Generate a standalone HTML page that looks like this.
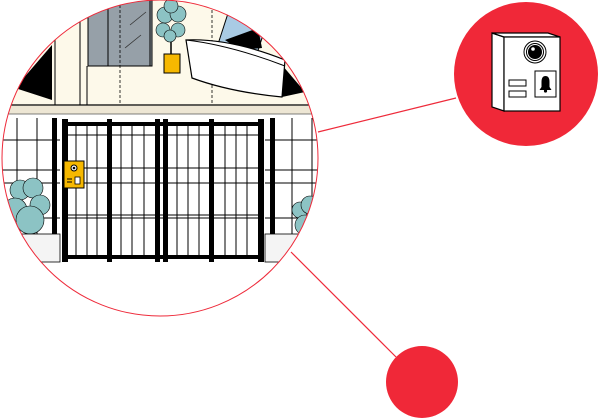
<!DOCTYPE html>
<html><head><style>html,body{margin:0;padding:0;background:#fff;width:600px;height:418px;overflow:hidden}</style></head>
<body>
<svg width="600" height="418" viewBox="0 0 600 418" xmlns="http://www.w3.org/2000/svg">
<defs><clipPath id="c"><circle cx="160" cy="158" r="158"/></clipPath></defs>
<line x1="318" y1="132" x2="456" y2="98" stroke="#ee2a3a" stroke-width="1.2"/>
<line x1="291" y1="252" x2="396" y2="357" stroke="#ee2a3a" stroke-width="1.2"/>
<g clip-path="url(#c)">
<rect x="0" y="0" width="320" height="320" fill="#fff"/>
<rect x="0" y="0" width="320" height="106" fill="#fdf9ea"/>
<rect x="0" y="106" width="320" height="8" fill="#ede6d4"/>
<line x1="0" y1="114" x2="320" y2="114" stroke="#555" stroke-width="0.8"/>
<rect x="88" y="0" width="64" height="66" fill="#96a0a8" stroke="#000" stroke-width="1"/>
<line x1="108" y1="0" x2="108" y2="66" stroke="#000"/><line x1="150" y1="0" x2="150" y2="66" stroke="#000"/>
<line x1="130" y1="25" x2="146" y2="12" stroke="#333" stroke-width="0.8"/><line x1="125" y1="48" x2="141" y2="35" stroke="#333" stroke-width="0.8"/>
<line x1="87" y1="66" x2="87" y2="105" stroke="#000"/><line x1="80" y1="15" x2="80" y2="105" stroke="#000"/>
<line x1="55" y1="15" x2="55" y2="105" stroke="#000"/>
<line x1="120" y1="0" x2="120" y2="103" stroke="#000" stroke-dasharray="3,2" stroke-width="0.8"/>
<line x1="212" y1="0" x2="212" y2="103" stroke="#000" stroke-dasharray="3,2" stroke-width="0.8"/>
<line x1="0" y1="105" x2="320" y2="105" stroke="#000" stroke-width="1.2"/>
<polygon points="15,88 52,45 52,100" fill="#000"/>
<polygon points="282,65 305,92 282,97" fill="#000"/>
<rect x="222" y="20" width="40" height="30" fill="#a9cbe4" stroke="#000" transform="rotate(18 242 35)"/>
<polygon points="225,40 258,28 262,48 240,50" fill="#000"/>
<path d="M186,40 Q230,38 285,60 L282,97 Q230,92 192,78 Z" fill="#fff" stroke="#000" stroke-width="1.2"/>
<path d="M186,40 Q230,45 285,66" fill="none" stroke="#000"/>
<line x1="171" y1="40" x2="171" y2="55" stroke="#000" stroke-width="1.5"/>
<g fill="#8cc3c4" stroke="#000" stroke-width="0.6"><circle cx="165" cy="15" r="8"/><circle cx="178" cy="14" r="8"/><circle cx="171" cy="6" r="7"/><circle cx="163" cy="30" r="7"/><circle cx="178" cy="30" r="7"/><circle cx="170" cy="36" r="6"/></g>
<rect x="164" y="54" width="16" height="19" fill="#f6b800" stroke="#000"/>
<!-- left fence -->
<g stroke="#000" stroke-width="1">
<line x1="17" y1="118" x2="17" y2="235"/><line x1="37" y1="118" x2="37" y2="235"/>
<line x1="0" y1="140" x2="60" y2="140"/><line x1="0" y1="170" x2="60" y2="170"/><line x1="0" y1="183" x2="60" y2="183"/><line x1="0" y1="218" x2="60" y2="218"/>
<line x1="265" y1="140" x2="320" y2="140"/><line x1="265" y1="170" x2="320" y2="170"/><line x1="265" y1="183" x2="320" y2="183"/><line x1="265" y1="218" x2="320" y2="218"/>
<line x1="292" y1="118" x2="292" y2="235"/><line x1="312" y1="118" x2="312" y2="235"/>
</g>
<rect x="52" y="118" width="5" height="118" fill="#000"/><rect x="270" y="118" width="5" height="118" fill="#000"/>
<g fill="#8cc3c4" stroke="#000" stroke-width="0.6"><circle cx="20" cy="190" r="10"/><circle cx="33" cy="188" r="10"/><circle cx="40" cy="205" r="10"/><circle cx="15" cy="210" r="12"/><circle cx="30" cy="220" r="14"/><circle cx="300" cy="210" r="8"/><circle cx="310" cy="205" r="9"/><circle cx="305" cy="225" r="10"/></g>
<rect x="0" y="234" width="60" height="28" fill="#f4f4f4" stroke="#000" stroke-width="0.8"/>
<rect x="265" y="234" width="40" height="28" fill="#f4f4f4" stroke="#000" stroke-width="0.8"/>
<!-- gate -->
<g stroke="#000" stroke-width="1">
<line x1="62" y1="135" x2="263" y2="135"/><line x1="62" y1="168" x2="263" y2="168"/><line x1="62" y1="183" x2="263" y2="183"/><line x1="62" y1="215" x2="263" y2="215"/><line x1="62" y1="218" x2="263" y2="218"/>
<line x1="76" y1="122" x2="76" y2="258"/><line x1="87" y1="122" x2="87" y2="258"/><line x1="97" y1="122" x2="97" y2="258"/>
<line x1="121" y1="122" x2="121" y2="258"/><line x1="132" y1="122" x2="132" y2="258"/><line x1="144" y1="122" x2="144" y2="258"/>
<line x1="177" y1="122" x2="177" y2="258"/><line x1="188" y1="122" x2="188" y2="258"/><line x1="199" y1="122" x2="199" y2="258"/>
<line x1="225" y1="122" x2="225" y2="258"/><line x1="236" y1="122" x2="236" y2="258"/><line x1="247" y1="122" x2="247" y2="258"/>
</g>
<g fill="#000">
<rect x="62" y="119" width="6" height="143"/><rect x="107" y="119" width="5" height="143"/><rect x="155" y="119" width="5" height="143"/><rect x="163" y="119" width="5" height="143"/><rect x="209" y="119" width="5" height="143"/><rect x="258" y="119" width="6" height="143"/>
<rect x="62" y="122" width="200" height="4"/><rect x="62" y="255" width="200" height="4"/>
</g>
<rect x="64" y="161" width="20" height="27" fill="#f6b800" stroke="#000"/>
<circle cx="74" cy="168" r="3" fill="#fff" stroke="#000"/><circle cx="74" cy="168" r="1.3" fill="#000"/>
<rect x="75" y="177" width="5" height="7" fill="#fff" stroke="#000" stroke-width="0.8"/>
<line x1="67" y1="179" x2="72" y2="179" stroke="#000"/><line x1="67" y1="182" x2="72" y2="182" stroke="#000"/>
</g>
<circle cx="160" cy="158" r="158" fill="none" stroke="#ee2a3a" stroke-width="1"/>
<circle cx="526" cy="74" r="72" fill="#f02838"/>
<circle cx="422" cy="382" r="36" fill="#f02838"/>
<!-- intercom -->
<polygon points="492,33 504,37 504,111 492,107" fill="#fff" stroke="#000" stroke-width="1.2"/>
<polygon points="492,33 548,33 560,37 504,37" fill="#fff" stroke="#000" stroke-width="1.2"/>
<rect x="504" y="37" width="56" height="74" fill="#fff" stroke="#000" stroke-width="1.2"/>
<circle cx="535" cy="52" r="11" fill="#fff" stroke="#000"/><circle cx="535" cy="52" r="8.5" fill="#fff" stroke="#000"/><circle cx="535" cy="52" r="7" fill="#000"/><circle cx="533" cy="49" r="1.8" fill="#fff"/>
<rect x="535" y="71" width="21" height="26" fill="#fff" stroke="#000"/>
<path d="M545.5,76 q-4,0 -4,6 v5 l-2,3 h12 l-2,-3 v-5 q0,-6 -4,-6z" fill="#000"/><circle cx="545.5" cy="91" r="1.6" fill="#000"/>
<rect x="509" y="80" width="17" height="6" fill="#fff" stroke="#000"/><rect x="509" y="91" width="17" height="6" fill="#fff" stroke="#000"/>
</svg>
</body></html>
